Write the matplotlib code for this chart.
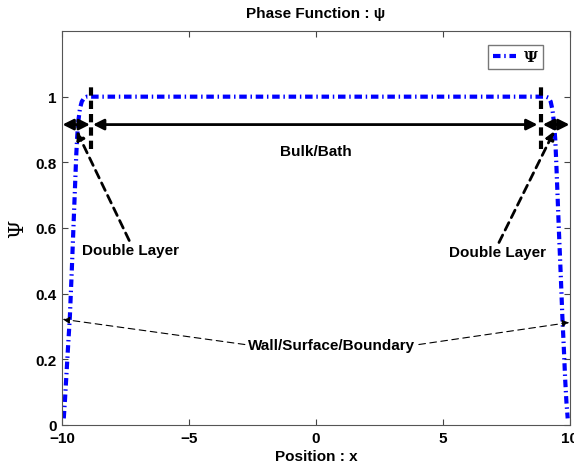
import matplotlib.pyplot as plt
import numpy as np

# phase function profile
x_left = [-9.93, -9.88, -9.82, -9.76, -9.69, -9.62, -9.55, -9.49, -9.44, -9.40,
          -9.35, -9.29, -9.22, -9.12, -9.02, -8.8]
psi_left = [0.02, 0.08, 0.16, 0.24, 0.33, 0.46, 0.60, 0.72, 0.82, 0.88,
            0.93, 0.965, 0.985, 0.997, 1.0, 1.0]
x_mid = [-8.0, -4.0, 0.0, 4.0, 8.0]
psi_mid = [1.0, 1.0, 1.0, 1.0, 1.0]
x_right = [8.8, 9.05, 9.15, 9.24, 9.31, 9.37, 9.42, 9.46, 9.51, 9.57,
           9.64, 9.70, 9.76, 9.81, 9.86, 9.91]
psi_right = [1.0, 1.0, 0.997, 0.985, 0.96, 0.92, 0.87, 0.80, 0.70, 0.58,
             0.45, 0.33, 0.23, 0.14, 0.07, 0.02]

xs = np.array(x_left + x_mid + x_right)
psi = np.array(psi_left + psi_mid + psi_right)

x_ticks = [-10, -5, 0, 5, 10]
y_ticks = [0, 0.2, 0.4, 0.6, 0.8, 1]

plt.rcParams['font.family'] = ['Liberation Sans', 'DejaVu Sans']
plt.rcParams['font.weight'] = 'bold'

fig = plt.figure(figsize=(5.74, 4.64), dpi=100)
ax = fig.add_axes([0.108, 0.082, 0.885, 0.849])

line, = ax.plot(xs, psi, color='blue', lw=3, linestyle=(0, (1.8, 0.9, 0.35, 0.9)),
                label='Ψ')

ax.set_xlim(-10, 10)
ax.set_ylim(0, 1.2)
ax.set_xticks(x_ticks)
ax.set_yticks(y_ticks)
ax.set_yticklabels(['0', '0.2', '0.4', '0.6', '0.8', '1'])
ax.tick_params(direction='in', top=True, right=True, labelsize=11, length=4,
               color='#444444', pad=4)
for s in ax.spines.values():
    s.set_color('#555555')

ax.set_title('Phase Function : ψ', fontsize=11, fontweight='bold', pad=10)
ax.set_xlabel('Position : x', fontsize=11, fontweight='bold', labelpad=3)
ax.set_ylabel('Ψ', fontsize=15, fontweight='normal', family='DejaVu Serif', labelpad=6)

leg = ax.legend(loc='upper right', handlelength=1.5, borderpad=0.35,
                handletextpad=0.5, fancybox=False,
                prop={'family': 'DejaVu Serif', 'size': 11},
                bbox_to_anchor=(0.962, 0.985))
leg.get_frame().set_edgecolor('#555555')
leg.get_frame().set_linewidth(1)

# vertical dashed markers for the double layer edges
ax.plot([-8.84, -8.84], [0.84, 1.03], color='black', lw=3, linestyle=(0, (2, 1.2)))
ax.plot([8.86, 8.86], [0.84, 1.03], color='black', lw=3, linestyle=(0, (2, 1.2)))

arrow_kw = dict(arrowstyle='<|-|>', color='black', lw=2, mutation_scale=16,
                shrinkA=0, shrinkB=0)
ax.annotate('', xy=(-8.78, 0.915), xytext=(8.72, 0.915), arrowprops=arrow_kw)
ax.annotate('', xy=(-9.98, 0.915), xytext=(-8.90, 0.915), arrowprops=arrow_kw)
ax.annotate('', xy=(8.93, 0.915), xytext=(9.98, 0.915), arrowprops=arrow_kw)
ax.text(0, 0.835, 'Bulk/Bath', ha='center', va='center', fontsize=11)

dl_kw = dict(arrowstyle='-|>', color='black', lw=2, linestyle=(0, (3, 2)),
             mutation_scale=12, shrinkA=0, shrinkB=0)
ax.annotate('Double Layer', xy=(-9.42, 0.895), xytext=(-7.3, 0.532),
            ha='center', va='center', fontsize=11,
            arrowprops=dict(dl_kw, relpos=(0.5, 1.0)))
ax.annotate('Double Layer', xy=(9.38, 0.895), xytext=(7.15, 0.526),
            ha='center', va='center', fontsize=11,
            arrowprops=dict(dl_kw, relpos=(0.5, 1.0)))

wall_kw = dict(arrowstyle='-|>', color='black', lw=0.8, linestyle=(0, (6, 4)),
               mutation_scale=10, shrinkA=0, shrinkB=0)
ax.text(0.63, 0.245, 'Wall/Surface/Boundary', ha='center', va='center', fontsize=11)
ax.annotate('', xy=(-9.97, 0.322), xytext=(-2.8, 0.245), arrowprops=wall_kw)
ax.annotate('', xy=(9.97, 0.312), xytext=(4.05, 0.245), arrowprops=wall_kw)

fig.savefig('out.png', dpi=100)
